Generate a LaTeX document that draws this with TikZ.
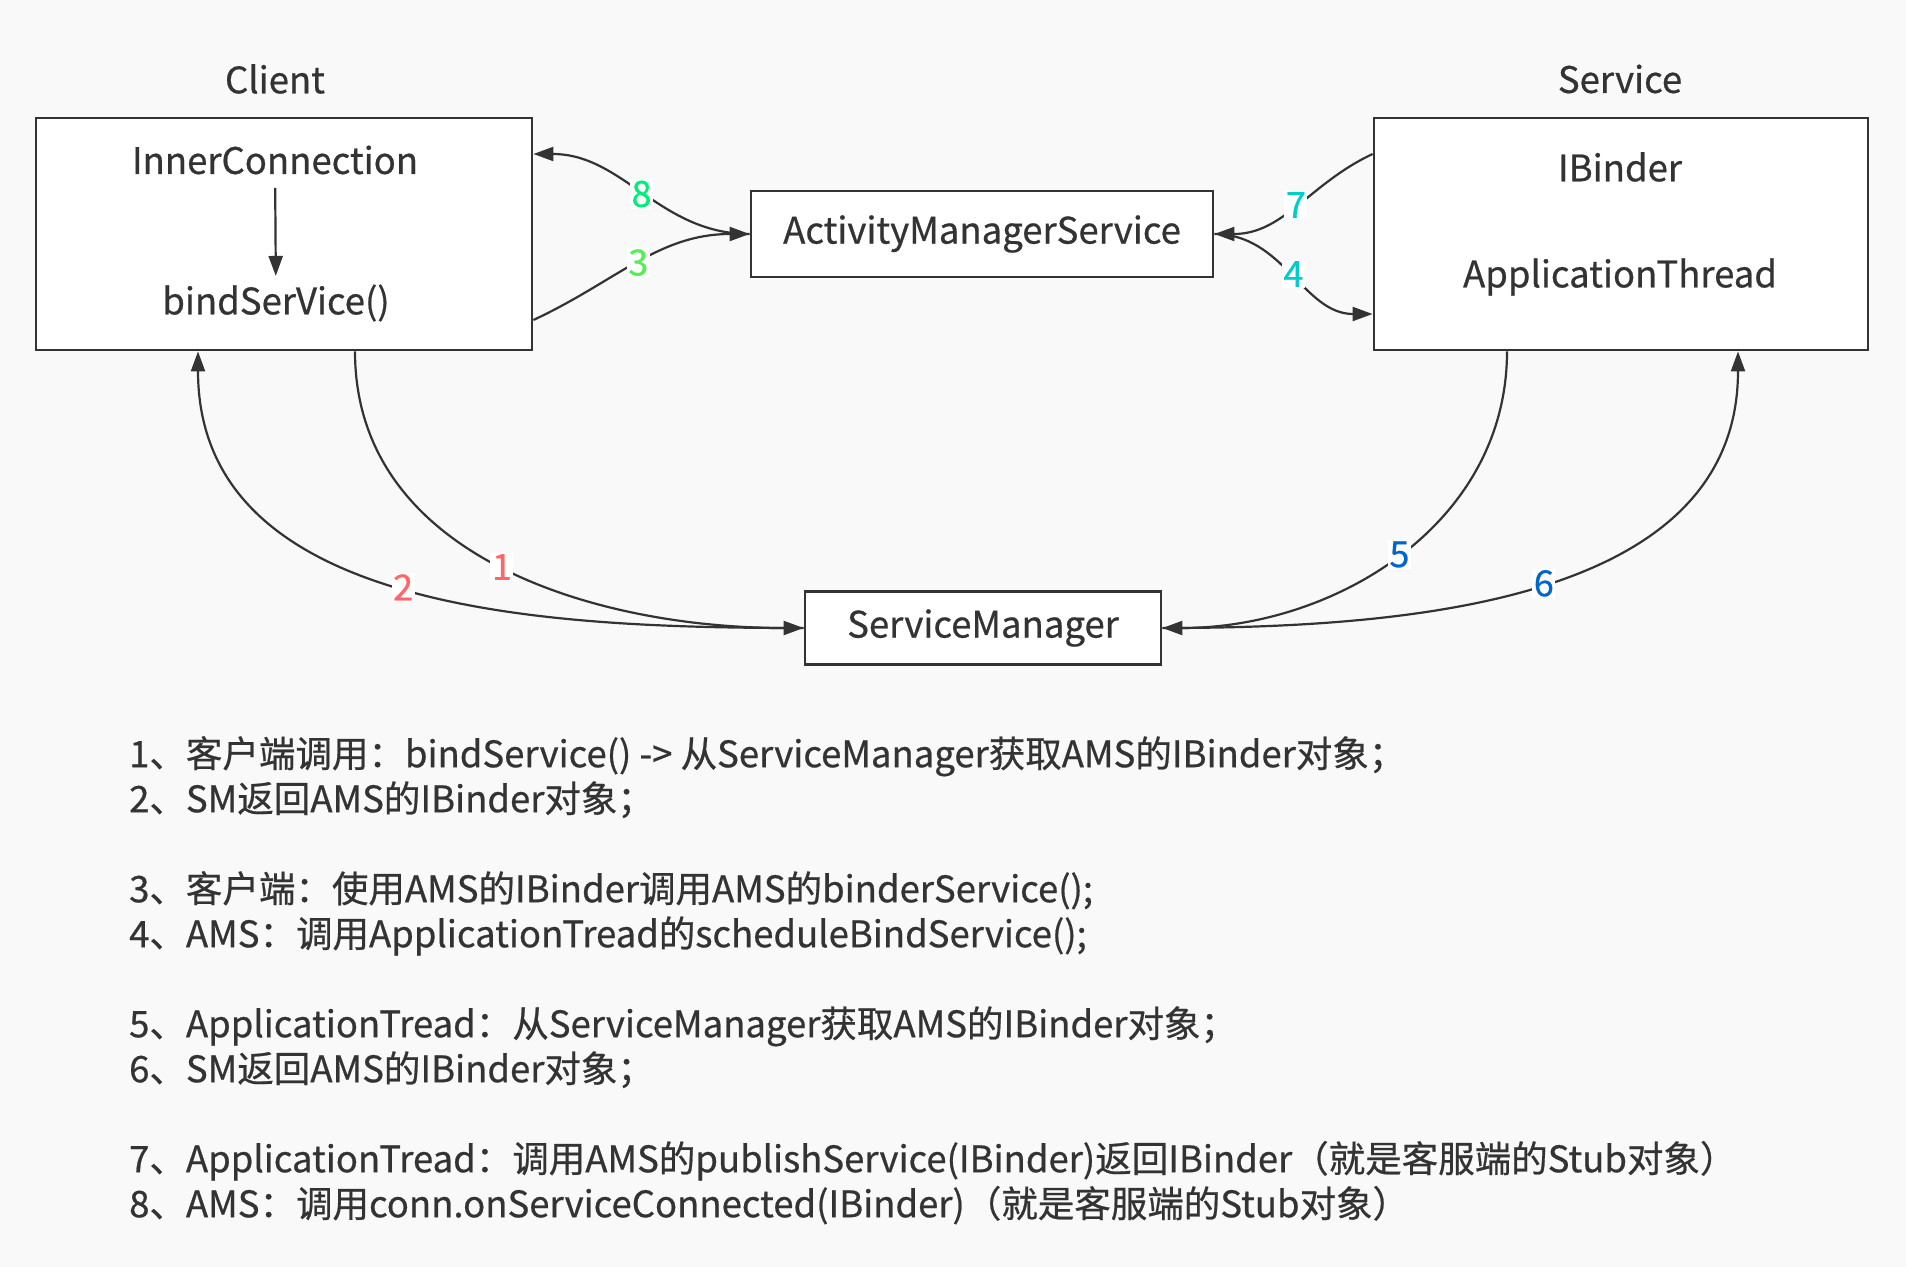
\documentclass[tikz,border=0pt]{standalone}
\usepackage{fontspec}
\setmainfont{Noto Sans CJK SC}[FakeBold=0.6]
\usetikzlibrary{arrows.meta}

\definecolor{bg}{HTML}{F9F9F9}
\definecolor{ink}{HTML}{333333}
\definecolor{numred}{HTML}{FF6666}
\definecolor{numgreen}{HTML}{00EE77}
\definecolor{numlime}{HTML}{55EE55}
\definecolor{numcyan}{HTML}{00CCCC}
\definecolor{numblue}{HTML}{0066CC}

\tikzset{
  box/.style={draw=ink, line width=2.8pt, fill=white, inner sep=0pt},
  txt/.style={text=ink, font=\fontsize{36.5}{36.5}\selectfont},
  conn/.style={draw=ink, line width=2.2pt, -{Triangle[length=20pt,width=14pt]}},
  num/.style={fill=white, inner sep=1.5pt, font=\fontsize{36}{36}\selectfont},
}

\begin{document}
\begin{tikzpicture}[x=1pt,y=1pt]

\fill[bg] (0,0) rectangle (1906,-1267);

% ---------- Client ----------
\node[txt] (clientlabel) at (275,-79) {Client};
\node[box, minimum width=496pt, minimum height=232pt] (client) at (284,-234) {};
\node[txt] (inner) at (275,-160) {InnerConnection};
\node[txt] (bind) at (276,-303) {bindSerVice()};
\draw[conn, shorten <=10pt, shorten >=5pt] (inner) -- (bind);

% ---------- Service ----------
\node[txt] (servicelabel) at (1620,-79) {Service};
\node[box, minimum width=494pt, minimum height=232pt] (service) at (1621,-234) {};
\node[txt] (ibinder) at (1620,-167) {IBinder};
\node[txt] (appthread) at (1620,-277) {ApplicationThread};

% ---------- AMS and ServiceManager ----------
\node[box, txt, minimum width=462pt, minimum height=86pt] (ams) at (982,-234) {ActivityManagerService};
\node[box, txt, minimum width=356pt, minimum height=73pt] (sm) at (983,-628) {ServiceManager};

% ---------- client <-> AMS ----------
\draw[conn] (ams.west) to[out=180,in=0]
  node[num, text=numgreen] (n8) {8} ([yshift=80pt]client.east);
\draw[conn] ([yshift=-86pt]client.east) to[out=25,in=180]
  node[num, text=numlime] (n3) {3} (ams.west);

% ---------- AMS <-> service ----------
\draw[conn] ([yshift=80pt]service.west) to[out=205,in=0]
  node[num, text=numcyan] (n7) {7} (ams.east);
\draw[conn] (ams.east) to[out=0,in=180]
  node[num, text=numcyan] (n4) {4} ([yshift=-80pt]service.west);

% ---------- ServiceManager ----------
\draw[conn] ([xshift=71pt]client.south) to[out=-90,in=180]
  node[num, text=numred] (n1) {1} (sm.west);
\draw[conn] (sm.west) to[out=180,in=-90]
  node[num, text=numred] (n2) {2} ([xshift=-86pt]client.south);
\draw[conn] ([xshift=-114pt]service.south) to[out=-90,in=0]
  node[num, text=numblue] (n5) {5} (sm.east);
\draw[conn] (sm.east) to[out=0,in=-90]
  node[num, text=numblue] (n6) {6} ([xshift=117pt]service.south);

% ---------- notes ----------
\node[anchor=north west, align=left, inner sep=0pt, text=ink,
  font=\fontsize{36.5}{45}\selectfont] (notes) at (129,-736) {%
1、客户端调用：bindService() -> 从ServiceManager获取AMS的IBinder对象；\\
2、SM返回AMS的IBinder对象；\\[45pt]
3、客户端：使用AMS的IBinder调用AMS的binderService();\\
4、AMS：调用ApplicationTread的scheduleBindService();\\[45pt]
5、ApplicationTread：从ServiceManager获取AMS的IBinder对象；\\
6、SM返回AMS的IBinder对象；\\[45pt]
7、ApplicationTread：调用AMS的publishService(IBinder)返回IBinder（就是客服端的Stub对象）\\
8、AMS：调用conn.onServiceConnected(IBinder)（就是客服端的Stub对象）};

\end{tikzpicture}
\end{document}
